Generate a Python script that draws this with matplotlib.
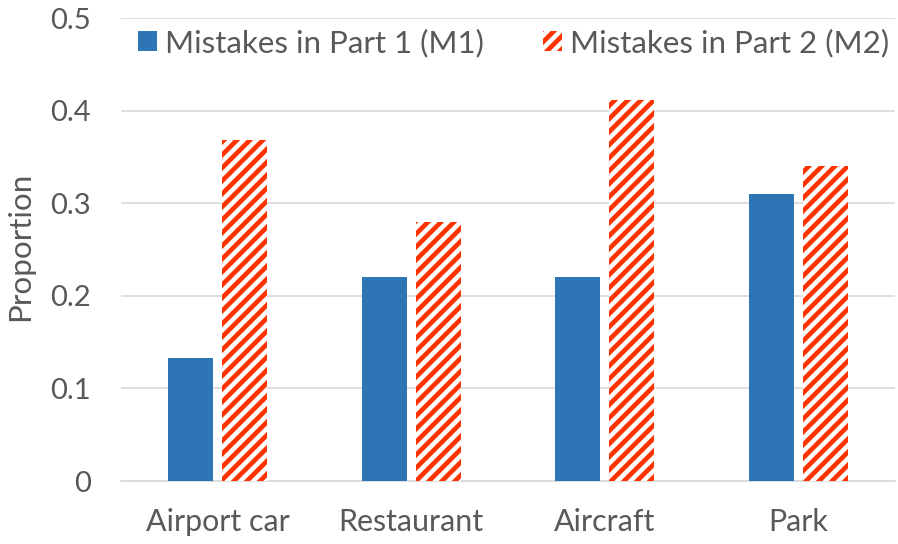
import matplotlib.pyplot as plt
import numpy as np

categories = ["Airport car", "Restaurant", "Aircraft", "Park"]
m1_values = [0.133, 0.22, 0.22, 0.31]
m2_values = [0.368, 0.28, 0.412, 0.34]
series_labels = ["Mistakes in Part 1 (M1)", "Mistakes in Part 2 (M2)"]
y_ticks = [0, 0.1, 0.2, 0.3, 0.4, 0.5]
y_tick_labels = ["0", "0.1", "0.2", "0.3", "0.4", "0.5"]

plt.rcParams['font.family'] = ['Lato', 'DejaVu Sans']
plt.rcParams['hatch.linewidth'] = 4.3

DPI = 78
fig = plt.figure(figsize=(898 / DPI, 544 / DPI), dpi=DPI)
ax = fig.add_axes([0.1347, 0.1158, 0.862, 0.851])

text_col = '#595959'
grid_col = '#D9D9D9'
blue = '#2E75B6'
red = '#FF3300'

x = np.arange(len(categories))
w = 0.232
off = 0.139

ax.bar(x - off, m1_values, width=w, color=blue, label=series_labels[0], zorder=3)
ax.bar(x + off, m2_values, width=w, facecolor='white', edgecolor=red, hatch='//',
       linewidth=0, label=series_labels[1], zorder=3)

ax.set_xlim(-0.5, len(categories) - 0.5)
ax.set_ylim(0, 0.5)
ax.set_yticks(y_ticks)
ax.set_yticklabels(y_tick_labels)
ax.set_xticks(x)
ax.set_xticklabels(categories)

ax.grid(axis='y', color=grid_col, linewidth=1.6, zorder=0)
for s in ['left', 'right', 'top']:
    ax.spines[s].set_visible(False)
ax.spines['bottom'].set_color(grid_col)
ax.spines['bottom'].set_linewidth(1.6)
ax.tick_params(length=0, labelcolor=text_col)
ax.tick_params(axis='y', pad=28, labelsize=27)
ax.tick_params(axis='x', pad=25, labelsize=28)

ax.set_ylabel("Proportion", fontsize=29, color=text_col)
ax.yaxis.set_label_coords(-0.112, 0.507)

leg = ax.legend(loc='center', bbox_to_anchor=(0.507, 0.946), ncol=2, frameon=False,
                fontsize=29, handlelength=0.6, handleheight=0.6, handletextpad=0.25,
                columnspacing=1.9, labelcolor=text_col, borderpad=0)

fig.savefig("out.png", dpi=DPI)
